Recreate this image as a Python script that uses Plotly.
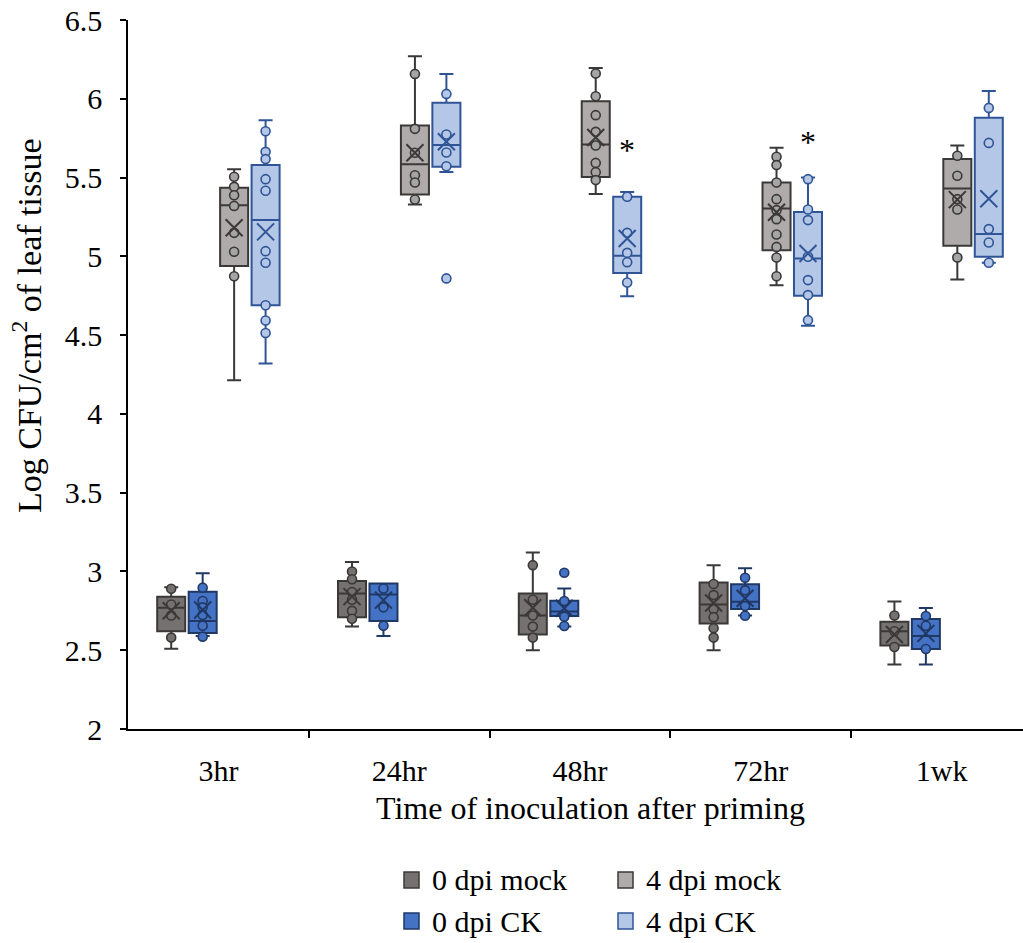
import plotly.graph_objects as go

# Time points after priming
categories = ["3hr", "24hr", "48hr", "72hr", "1wk"]

# 0 dpi mock
mock0_lower = [2.51, 2.65, 2.50, 2.50, 2.41]
mock0_q1 = [2.62, 2.71, 2.60, 2.67, 2.53]
mock0_median = [2.77, 2.86, 2.72, 2.79, 2.62]
mock0_q3 = [2.84, 2.94, 2.86, 2.93, 2.68]
mock0_upper = [2.90, 3.06, 3.12, 3.04, 2.81]
mock0_mean = [2.75, 2.84, 2.77, 2.80, 2.60]
mock0_points = [
    [2.89, 2.79, 2.72, 2.58],
    [3.00, 2.95, 2.87, 2.82, 2.75, 2.70],
    [3.04, 2.82, 2.72, 2.65, 2.58],
    [2.92, 2.85, 2.76, 2.71, 2.64, 2.58],
    [2.72, 2.62, 2.52],
]

# 0 dpi CK
ck0_lower = [2.59, 2.59, 2.65, 2.72, 2.41]
ck0_q1 = [2.61, 2.685, 2.717, 2.761, 2.508]
ck0_median = [2.685, 2.854, 2.745, 2.808, 2.59]
ck0_q3 = [2.871, 2.924, 2.814, 2.918, 2.698]
ck0_upper = [2.988, 2.924, 2.892, 3.02, 2.768]
ck0_mean = [2.755, 2.818, 2.766, 2.83, 2.607]
ck0_points = [
    [2.897, 2.812, 2.772, 2.723, 2.655, 2.586],
    [2.892, 2.772, 2.655],
    [2.992, 2.812, 2.713, 2.654],
    [2.96, 2.88, 2.78, 2.719],
    [2.717, 2.655, 2.508],
]

# 4 dpi mock
mock4_lower = [4.214, 5.329, 5.395, 4.817, 4.853]
mock4_q1 = [4.938, 5.393, 5.504, 5.039, 5.067]
mock4_median = [5.324, 5.585, 5.710, 5.303, 5.430]
mock4_q3 = [5.435, 5.831, 5.985, 5.469, 5.617]
mock4_upper = [5.553, 6.270, 6.196, 5.689, 5.703]
mock4_mean = [5.181, 5.657, 5.754, 5.28, 5.360]
mock4_points = [
    [5.505, 5.441, 5.388, 5.320, 5.149, 5.029, 4.874],
    [6.158, 5.809, 5.657, 5.515, 5.469, 5.361],
    [6.160, 6.016, 5.896, 5.790, 5.703, 5.593, 5.534, 5.484],
    [5.632, 5.579, 5.469, 5.363, 5.293, 5.236, 5.139, 5.060, 4.993, 4.874],
    [5.638, 5.511, 5.363, 5.297, 4.993],
]

# 4 dpi CK
ck4_lower = [4.320, 5.536, 4.747, 4.559, 4.959]
ck4_q1 = [4.690, 5.568, 4.895, 4.750, 4.997]
ck4_median = [5.230, 5.706, 5.003, 4.986, 5.141]
ck4_q3 = [5.579, 5.974, 5.378, 5.282, 5.879]
ck4_upper = [5.864, 6.158, 5.409, 5.500, 6.050]
ck4_mean = [5.155, 5.727, 5.113, 5.018, 5.366]
ck4_points = [
    [5.794, 5.663, 5.617, 5.490, 5.416, 5.033, 4.959, 4.690, 4.593, 4.513],
    [6.031, 5.773, 5.659, 5.572, 4.860],
    [5.378, 5.149, 5.022, 4.963, 4.834],
    [5.490, 5.297, 5.230, 4.997, 4.849, 4.754, 4.595],
    [5.942, 5.720, 5.173, 5.088, 4.959],
]

# Significance marks: (time point index, y position)
significance = [(2, 5.675), (3, 5.725)]

FONT = "Liberation Serif"
SLOT = 0.174
BOX_W = 0.155

series = [
    dict(name="0 dpi mock", lower=mock0_lower, q1=mock0_q1, median=mock0_median,
         q3=mock0_q3, upper=mock0_upper, mean=mock0_mean, points=mock0_points,
         fill="#767171", line="#3B3838", pfill="#767171", pline="#3B3838"),
    dict(name="0 dpi CK", lower=ck0_lower, q1=ck0_q1, median=ck0_median,
         q3=ck0_q3, upper=ck0_upper, mean=ck0_mean, points=ck0_points,
         fill="#4472C4", line="#203864", pfill="#4472C4", pline="#203864"),
    dict(name="4 dpi mock", lower=mock4_lower, q1=mock4_q1, median=mock4_median,
         q3=mock4_q3, upper=mock4_upper, mean=mock4_mean, points=mock4_points,
         fill="#AFABAB", line="#3B3838", pfill="#A5A5A5", pline="#3B3838"),
    dict(name="4 dpi CK", lower=ck4_lower, q1=ck4_q1, median=ck4_median,
         q3=ck4_q3, upper=ck4_upper, mean=ck4_mean, points=ck4_points,
         fill="#B4C7E7", line="#2F5597", pfill="#B4C7E7", pline="#2F5597"),
]

fig = go.Figure()
for k, s in enumerate(series):
    off = (k - 1.5) * SLOT
    xs = [i + off for i in range(len(categories))]
    fig.add_trace(go.Box(
        x=xs, q1=s["q1"], median=s["median"], q3=s["q3"],
        lowerfence=s["lower"], upperfence=s["upper"],
        width=BOX_W, whiskerwidth=0.5,
        fillcolor=s["fill"], line=dict(color=s["line"], width=2),
        name=s["name"], showlegend=False, hoverinfo="skip",
    ))
    px, py = [], []
    for i, vals in enumerate(s["points"]):
        px += [i + off] * len(vals)
        py += vals
    fig.add_trace(go.Scatter(
        x=px, y=py, mode="markers", showlegend=False, hoverinfo="skip",
        marker=dict(symbol="circle", size=9, color=s["pfill"],
                    line=dict(color=s["pline"], width=1.6)),
    ))
    fig.add_trace(go.Scatter(
        x=xs, y=s["mean"], mode="markers", showlegend=False, hoverinfo="skip",
        marker=dict(symbol="x-thin", size=17, line=dict(color=s["line"], width=2)),
    ))

for i, y in significance:
    fig.add_annotation(x=i + 1.5 * SLOT, y=y, text="*", showarrow=False,
                       font=dict(family=FONT, size=32, color="black"),
                       xanchor="center", yanchor="middle")

# Plot-area edges in pixels
L, R, T, B = 128, 1023, 20, 729


def px2paper(xp, yp):
    return (xp - L) / (R - L), (B - yp) / (B - T)


# Axis titles
tx, ty = px2paper(590, 808)
fig.add_annotation(xref="paper", yref="paper", x=tx, y=ty,
                   text="Time of inoculation after priming", showarrow=False,
                   xanchor="center", yanchor="middle",
                   font=dict(family=FONT, size=32, color="black"))
tx, ty = px2paper(27, 326)
fig.add_annotation(xref="paper", yref="paper", x=tx, y=ty, textangle=-90,
                   text="Log CFU/cm<sup>2</sup> of leaf tissue", showarrow=False,
                   xanchor="center", yanchor="middle",
                   font=dict(family=FONT, size=34, color="black"))

# Legend drawn as swatches and labels below the axis
legend_items = [
    (series[0], 404, 880), (series[2], 618, 880),
    (series[1], 404, 921), (series[3], 618, 921),
]
for s, lx, ly in legend_items:
    x0, y0 = px2paper(lx, ly + 8)
    x1, y1 = px2paper(lx + 15, ly - 8)
    fig.add_shape(type="rect", xref="paper", yref="paper", x0=x0, y0=y0, x1=x1, y1=y1,
                  fillcolor=s["fill"], line=dict(color=s["line"], width=1.5))
    tx, ty = px2paper(lx + 26, ly)
    fig.add_annotation(xref="paper", yref="paper", x=tx, y=ty, text=s["name"],
                       showarrow=False, xanchor="left", yanchor="middle",
                       font=dict(family=FONT, size=30, color="black"))

fig.update_layout(
    width=1023, height=943,
    margin=dict(l=L, r=1023 - R, t=T, b=943 - B),
    paper_bgcolor="white", plot_bgcolor="white",
    font=dict(family=FONT, color="black"),
    showlegend=False,
)
fig.update_xaxes(
    range=[-0.5, -0.5 + (R - L) / 180.8],
    tickmode="array", tickvals=list(range(len(categories))), ticktext=categories,
    ticks="", tickfont=dict(family=FONT, size=30, color="black"),
    ticklabelstandoff=14,
    minor=dict(tickmode="array", tickvals=[i + 0.5 for i in range(len(categories) - 1)],
               ticks="outside", ticklen=7, tickwidth=1.5, tickcolor="black"),
    showline=True, linecolor="black", linewidth=1.5,
    showgrid=False, zeroline=False,
)
fig.update_yaxes(
    range=[2, 6.5], dtick=0.5, tick0=2,
    ticks="outside", ticklen=6, tickwidth=1.5, tickcolor="black",
    tickfont=dict(family=FONT, size=30, color="black"), ticklabelstandoff=12,
    showline=True, linecolor="black", linewidth=1.5,
    showgrid=False, zeroline=False,
)

fig.write_html("out.html")
